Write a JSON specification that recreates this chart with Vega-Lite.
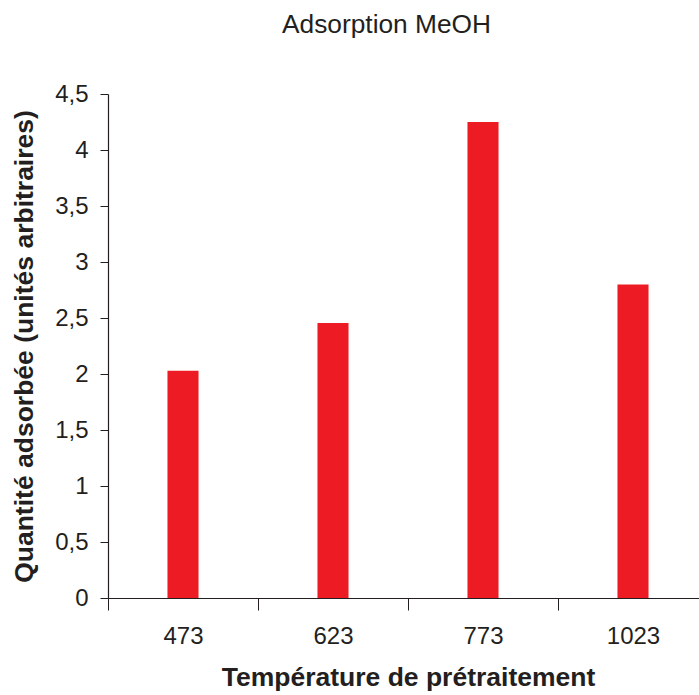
{
  "$schema": "https://vega.github.io/schema/vega-lite/v6.json",
  "autosize": "none",
  "padding": {"left": 108, "top": 94, "right": 0, "bottom": 97},
  "width": 591,
  "height": 504,
  "background": "white",
  "title": {
    "text": "Adsorption MeOH",
    "font": "Liberation Sans",
    "fontSize": 26.3,
    "fontWeight": "normal",
    "color": "#231F20",
    "anchor": "start",
    "frame": "group",
    "dx": 174,
    "offset": 44
  },
  "data": {
    "values": [
      {"temperature": "473", "quantite": 2.03},
      {"temperature": "623", "quantite": 2.455},
      {"temperature": "773", "quantite": 4.25},
      {"temperature": "1023", "quantite": 2.8}
    ]
  },
  "config": {
    "view": {"stroke": null},
    "axis": {
      "labelFont": "Liberation Sans",
      "titleFont": "Liberation Sans",
      "labelFontSize": 24,
      "titleFontSize": 26.5,
      "titleFontWeight": "bold",
      "labelColor": "#231F20",
      "titleColor": "#231F20",
      "domainColor": "#231F20",
      "tickColor": "#231F20",
      "domainWidth": 1.2,
      "tickWidth": 1,
      "grid": false
    }
  },
  "mark": {"type": "bar", "color": "#ED1C24", "width": {"band": 0.207}},
  "encoding": {
    "x": {
      "field": "temperature",
      "type": "ordinal",
      "sort": ["473", "623", "773", "1023"],
      "scale": {"paddingInner": 0, "paddingOuter": 0, "range": [0, 600]},
      "axis": {
        "title": "Température de prétraitement",
        "labelAngle": 0,
        "tickBand": "extent",
        "tickSize": 12,
        "labelPadding": 14,
        "titlePadding": 16
      }
    },
    "y": {
      "field": "quantite",
      "type": "quantitative",
      "scale": {"domain": [0, 4.5], "nice": false},
      "axis": {
        "title": "Quantité adsorbée (unités arbitraires)",
        "values": [0, 0.5, 1, 1.5, 2, 2.5, 3, 3.5, 4, 4.5],
        "labelExpr": "replace(format(datum.value, '~g'), '.', ',')",
        "tickSize": 8,
        "labelPadding": 12,
        "titlePadding": 16
      }
    }
  }
}
